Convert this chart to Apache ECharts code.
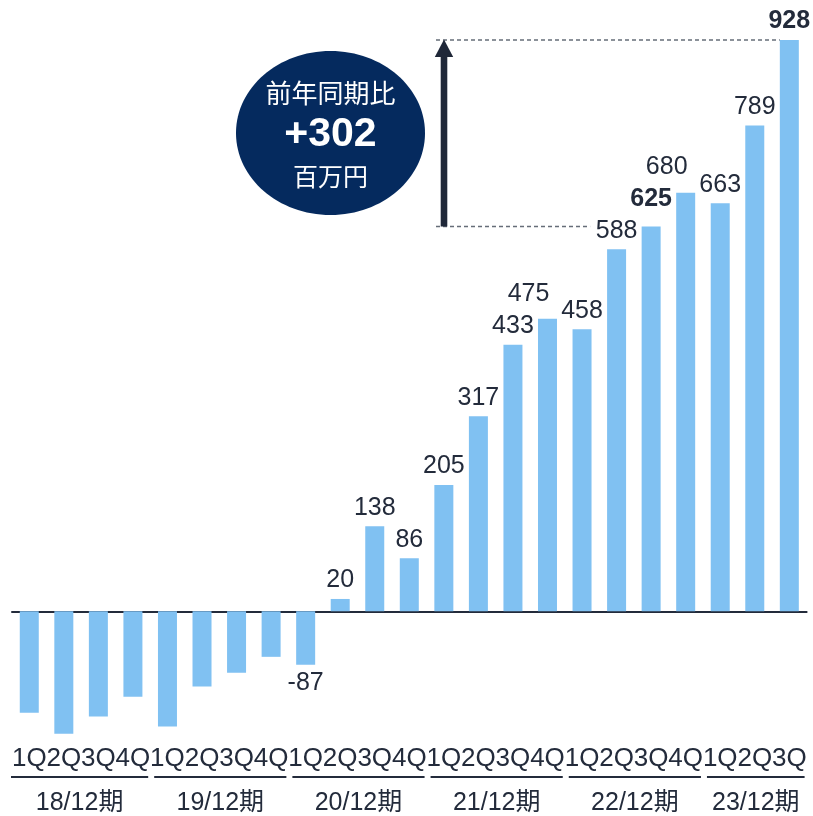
<!DOCTYPE html>
<html>
<head>
<meta charset="utf-8">
<style>
  html, body { margin: 0; padding: 0; background: #ffffff; }
  #chart { width: 813px; height: 816px; }
</style>
<script src="https://cdn.jsdelivr.net/npm/echarts@6/dist/echarts.min.js"></script>
</head>
<body>
<div id="chart"></div>
<script>
// Quarterly operating profit (百万円), fiscal years ending December
const periods = ['18/12期', '19/12期', '20/12期', '21/12期', '22/12期', '23/12期'];
const quartersPerPeriod = [4, 4, 4, 4, 4, 3];
const quarterLabels = ['1Q', '2Q', '3Q', '4Q'];
const values = [
  -165, -199, -171, -139,
  -187, -122, -100, -74,
  -87, 20, 138, 86,
  205, 317, 433, 475,
  458, 588, 625, 680,
  663, 789, 928
];
// only these values carry a printed label
const labelled = [
  false, false, false, false,
  false, false, false, false,
  true, true, true, true,
  true, true, true, true,
  true, true, true, true,
  true, true, true
];
const boldValues = [625, 928];
const compareFrom = 625;   // 22/12期 3Q
const compareTo = 928;     // 23/12期 3Q
const badgeTitle = '前年同期比';
const badgeValue = '+302';
const badgeUnit = '百万円';

const TEXT = '#232b3b';
const BAR = '#80c1f2';
const NAVY = '#052a5e';
const FONT = "'Liberation Sans', Arial, 'Noto Sans CJK JP', sans-serif";
const CJK = "'Noto Sans CJK JP', 'Liberation Sans', sans-serif";

// build unique category ids plus group ranges
const categories = [];
const groups = [];
periods.forEach((p, gi) => {
  const start = categories.length;
  for (let q = 0; q < quartersPerPeriod[gi]; q++) {
    categories.push(p + ' ' + quarterLabels[q]);
  }
  groups.push({ name: p, start: start, end: categories.length - 1 });
});

const labelOffsets = { 15: [-19, -6], 19: [-19, -7], 18: [0, -9] };

const seriesData = values.map((v, i) => {
  const item = { value: v };
  if (!labelled[i]) {
    item.label = { show: false };
  } else {
    const lab = { show: true, position: v < 0 ? 'bottom' : 'top' };
    if (boldValues.indexOf(v) >= 0) lab.fontWeight = 'bold';
    if (labelOffsets[i]) lab.offset = labelOffsets[i];
    item.label = lab;
  }
  return item;
});

const chart = echarts.init(document.getElementById('chart'), null, { renderer: 'canvas' });

chart.setOption({
  animation: false,
  grid: {
    left: 12, right: 6.4, top: 40, bottom: 81.6,
    containLabel: false,
    outerBoundsMode: 'none'
  },
  xAxis: {
    type: 'category',
    data: categories,
    boundaryGap: true,
    axisLine: { show: true, onZero: true, lineStyle: { color: TEXT, width: 2 } },
    axisTick: { show: false },
    splitLine: { show: false },
    axisLabel: {
      interval: 0,
      margin: 11,
      color: TEXT,
      fontSize: 26,
      fontFamily: FONT,
      formatter: (val) => val.split(' ')[1]
    }
  },
  yAxis: {
    type: 'value',
    min: -200,
    max: 928,
    show: false,
    splitLine: { show: false }
  },
  series: [{
    type: 'bar',
    data: seriesData,
    barWidth: 19,
    itemStyle: { color: BAR },
    label: {
      show: true,
      distance: 6,
      color: TEXT,
      fontSize: 25,
      fontFamily: FONT
    }
  }]
});

// annotations placed through the chart's own scales
function px(idx, val) {
  return chart.convertToPixel({ xAxisIndex: 0, yAxisIndex: 0 }, [idx, val]);
}
const band = px(1, 0)[0] - px(0, 0)[0];
const yFrom = px(0, compareFrom)[1];
const yTo = px(0, compareTo)[1];
const lastIdx = values.length - 1;
const fromIdx = values.indexOf(compareFrom);

const graphics = [];

// period underlines and names
groups.forEach((g, gi) => {
  const x0 = px(g.start, 0)[0] - band / 2 + (gi === 0 ? -1 : 4);
  const x1 = px(g.end, 0)[0] + band / 2 - 2;
  graphics.push({
    type: 'line',
    shape: { x1: x0, y1: 777, x2: x1, y2: 777 },
    style: { stroke: TEXT, lineWidth: 2 },
    silent: true
  });
  graphics.push({
    type: 'text',
    x: (x0 + x1) / 2,
    y: 803,
    style: {
      text: g.name,
      fill: TEXT,
      font: '25px ' + FONT,
      align: 'center',
      verticalAlign: 'middle'
    },
    silent: true
  });
});

// dashed reference lines from the compared bars
const arrowX = 444;
graphics.push({
  type: 'line',
  shape: { x1: 436, y1: yTo, x2: px(lastIdx, 0)[0] - 9.5, y2: yTo },
  style: { stroke: '#666d78', lineWidth: 1.5, lineDash: [4, 3] },
  silent: true
});
graphics.push({
  type: 'line',
  shape: { x1: 436, y1: yFrom, x2: px(fromIdx, 0)[0] - 61, y2: yFrom },
  style: { stroke: '#666d78', lineWidth: 1.5, lineDash: [4, 3] },
  silent: true
});

// upward arrow
graphics.push({
  type: 'rect',
  shape: { x: arrowX - 3.3, y: yTo + 15, width: 6.6, height: yFrom - yTo - 15 },
  style: { fill: '#1f2738' },
  silent: true
});
graphics.push({
  type: 'polygon',
  shape: { points: [[arrowX, yTo - 0.5], [arrowX - 9.2, yTo + 17], [arrowX + 9.2, yTo + 17]] },
  style: { fill: '#1f2738' },
  silent: true
});

// badge
graphics.push({
  type: 'ellipse',
  shape: { cx: 330.5, cy: 133, rx: 94.5, ry: 82 },
  style: { fill: NAVY },
  silent: true
});
graphics.push({
  type: 'text', x: 330.5, y: 93,
  style: { text: badgeTitle, fill: '#ffffff', font: '26px ' + CJK, align: 'center', verticalAlign: 'middle' },
  silent: true
});
graphics.push({
  type: 'text', x: 330.5, y: 135,
  style: { text: badgeValue, fill: '#ffffff', font: 'bold 41px ' + FONT, align: 'center', verticalAlign: 'middle' },
  silent: true
});
graphics.push({
  type: 'text', x: 330.5, y: 176,
  style: { text: badgeUnit, fill: '#ffffff', font: '25px ' + CJK, align: 'center', verticalAlign: 'middle' },
  silent: true
});

chart.setOption({ graphic: graphics });
</script>
</body>
</html>
